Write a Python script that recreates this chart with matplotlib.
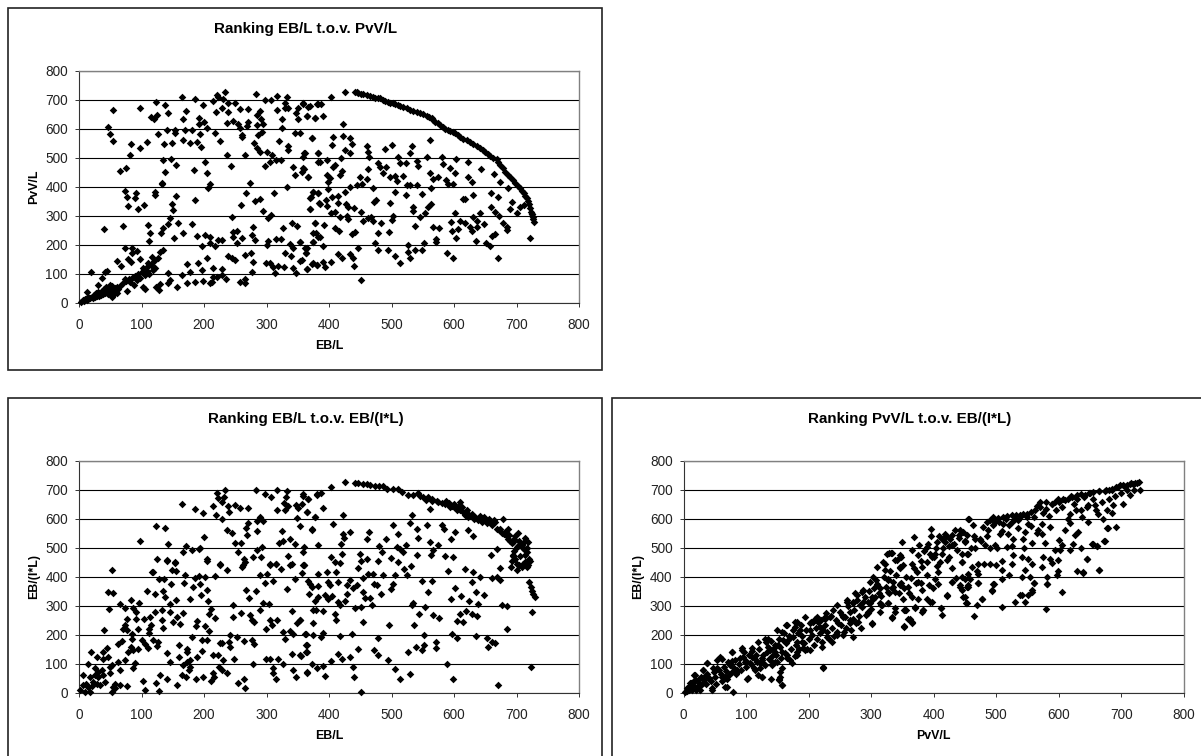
import numpy as np
import matplotlib
matplotlib.use('Agg')
import matplotlib.pyplot as plt
from matplotlib.patches import Rectangle

plt.rcParams['font.family'] = ['Liberation Sans', 'DejaVu Sans']

# chart 1: EB/L against PvV/L
pv_curve = [(426,728),(442,726),(445,725),(447,722),(451,721),(455,720),(460,717),(466,713),(470,710),(474,707),(478,706),(482,705),(486,700),(490,695),(494,692),(498,690),(502,687),(506,684),(510,681),(514,678),(519,674),(524,670),(530,665),(535,661),(540,657),(546,653),(551,649),(556,645),(560,641),(564,638),(567,631),(570,624),(574,618),(578,613),(582,606),(586,599),(590,595),(594,592),(598,588),(602,584),(606,578),(610,572),(615,566),(620,561),(625,554),(631,547),(636,539),(642,532),(646,526),(650,521),(654,513),(658,506),(663,500),(668,494),(671,484),(674,475),(678,463),(682,452),(686,442),(690,432),(694,423),(698,414),(702,404),(706,394),(709,385),(712,377),(714,368),(716,360),(718,349),(720,339),(722,326),(723,314),(725,305),(726,297),(727,288),(728,279)]
pv_upper = [(54,664),(47,606),(49,580),(55,557),(97,672),(123,691),(137,680),(142,654),(125,647),(115,639),(120,632),(164,710),(171,662),(167,632),(185,702),(199,683),(192,636),(200,624),(192,616),(214,694),(221,717),(233,725),(223,708),(231,702),(228,672),(219,657),(239,657),(238,688),(249,687),(257,669),(271,669),(236,620),(246,627),(254,616),(257,602),(271,624),(268,608),(261,578),(283,720),(297,699),(307,699),(317,713),(317,665),(333,709),(330,687),(330,670),(335,672),(324,632),(325,601),(320,557),(335,541),(335,526),(289,660),(284,647),(291,633),(284,614),(295,616),(292,588),(287,578),(358,687),(351,670),(347,653),(350,632),(367,676),(364,645),(378,636),(382,684),(345,584),(354,584),(372,569),(280,549),(285,534),(289,521),(300,521),(309,509),(297,472),(306,484),(315,491),(323,491),(342,469),(345,442),(356,449),(360,461),(361,517),(367,432),(383,515),(383,486),(127,580),(140,594),(154,595),(154,586),(169,594),(180,594),(136,546),(148,549),(167,561),(178,551),(189,555),(195,538),(193,580),(205,601),(218,584),(226,557),(236,509),(266,509),(243,472),(261,572),(134,491),(147,494),(155,476),(138,449),(133,413),(184,457),(202,486),(205,446),(210,409),(207,394),(273,413),(333,399),(66,453),(75,465),(81,509),(83,546),(97,532),(109,553)]
pv_lower = [(73,385),(76,364),(79,334),(91,379),(89,360),(95,323),(104,337),(121,383),(121,371),(133,411),(149,342),(155,368),(150,320),(186,353),(259,338),(267,379),(282,352),(290,357),(295,316),(312,379),(307,302),(303,293),(371,365),(375,383),(382,377),(385,342),(369,323),(378,276),(40,253),(71,263),(111,268),(135,256),(146,291),(142,270),(131,239),(114,239),(112,213),(159,276),(166,239),(152,222),(181,272),(188,230),(202,233),(209,225),(209,205),(196,195),(218,195),(223,216),(228,216),(245,297),(247,245),(252,248),(247,228),(253,207),(260,222),(278,260),(276,233),(282,216),(300,199),(303,214),(315,221),(323,221),(327,259),(340,276),(348,264),(338,201),(342,187),(354,208),(364,187),(363,170),(375,210),(379,239),(382,228),(19,107),(36,86),(42,107),(45,110),(73,190),(85,187),(93,179),(60,145),(67,128),(79,151),(83,141),(84,170),(98,151),(116,159),(111,136),(127,153),(129,176),(134,180),(172,132),(190,138),(204,153),(196,113),(199,75),(142,103),(146,78),(142,67),(157,55),(164,95),(178,107),(215,118),(228,115),(239,161),(245,153),(249,147),(266,164),(275,170),(279,141),(277,107),(299,138),(306,138),(310,122),(314,101),(319,126),(328,124),(330,170),(339,161),(343,121),(347,103),(356,147),(364,115),(374,136),(380,130),(103,55),(106,46),(123,53),(128,44),(130,64),(186,72),(172,69),(212,72),(210,67),(258,72),(265,67),(265,82),(235,82),(228,95),(220,90),(215,90)]
pv_band = [(3,3),(6,8),(8,6),(10,12),(12,10),(14,18),(15,12),(18,15),(20,20),(22,16),(24,26),(25,20),(27,33),(28,24),(30,28),(30,38),(32,22),(33,34),(35,28),(36,42),(38,30),(40,36),(40,48),(42,33),(43,55),(45,40),(46,30),(47,52),(48,44),(50,60),(50,35),(52,48),(52,21),(53,58),(55,40),(55,28),(57,52),(58,45),(60,35),(60,55),(62,48),(13,38),(30,60),(77,41),(75,75),(80,80),(82,72),(85,85),(88,62),(90,92),(92,78),(95,100),(98,85),(100,105),(102,118),(105,95),(108,110),(110,125),(112,100),(115,130),(118,112),(120,145),(122,118),(70,68),(66,58),(73,82)]
pv_right = [(403,710),(358,684),(369,678),(380,684),(387,684),(365,644),(378,636),(390,644),(422,616),(372,569),(407,572),(404,544),(422,576),(434,567),(436,547),(425,526),(434,517),(460,540),(463,521),(464,503),(490,529),(501,544),(533,540),(530,517),(561,561),(360,517),(383,515),(359,501),(385,486),(397,492),(419,498),(410,475),(407,469),(420,454),(418,440),(396,440),(402,429),(399,417),(367,432),(359,463),(449,434),(463,461),(460,425),(444,406),(452,411),(434,398),(426,383),(415,368),(405,366),(399,391),(375,383),(383,377),(370,360),(395,354),(384,343),(396,333),(409,314),(403,308),(369,323),(415,345),(427,339),(431,329),(440,328),(451,314),(417,294),(429,299),(431,289),(471,394),(479,480),(482,469),(491,469),(487,446),(498,432),(506,437),(511,503),(514,480),(523,483),(508,421),(519,437),(524,406),(530,406),(540,406),(506,383),(523,371),(548,375),(563,394),(566,425),(574,432),(561,446),(541,490),(543,472),(556,501),(580,501),(583,477),(594,466),(602,446),(587,423),(591,409),(598,409),(603,495),(622,484),(643,461),(622,432),(629,417),(664,443),(674,417),(687,394),(659,377),(671,363),(631,371),(617,357),(475,354),(472,348),(498,343),(535,331),(534,317),(563,339),(559,331),(554,308),(546,297),(503,300),(500,285),(463,291),(467,297),(455,283),(470,283),(483,274),(537,264),(567,262),(576,256),(496,245),(479,239),(442,243),(436,236),(410,259),(416,247),(392,268),(378,276),(375,239),(386,228),(375,210),(354,210),(390,197),(473,205),(478,182),(495,180),(506,161),(514,138),(447,190),(434,167),(439,155),(440,126),(414,167),(420,155),(403,141),(390,141),(393,124),(380,130),(372,133),(365,115),(354,145),(363,172),(362,187),(451,78),(527,199),(527,176),(530,155),(538,182),(548,182),(552,205),(571,220),(571,208),(588,172),(599,153),(603,222),(596,247),(595,279),(607,253),(610,283),(618,274),(615,357),(602,308),(630,297),(636,283),(626,262),(628,248),(637,260),(648,271),(642,308),(635,213),(651,207),(657,195),(660,231),(666,236),(671,155),(659,331),(666,314),(672,300),(678,274),(684,262),(685,251),(692,348),(690,323),(700,308),(706,329),(712,337),(722,224),(724,306)]

# chart 2: EB/L against EB/(I*L)
il_upper = [(97,525),(123,574),(137,570),(142,514),(124,462),(140,459),(154,451),(164,652),(185,633),(199,622),(214,643),(219,614),(228,600),(220,688),(233,700),(223,671),(232,677),(228,660),(238,646),(240,623),(249,648),(257,637),(271,637),(283,700),(297,685),(307,674),(317,700),(332,697),(331,677),(328,654),(334,643),(330,631),(317,629),(359,685),(367,669),(381,685),(347,648),(356,651),(350,637),(365,625),(348,602),(378,606),(354,574),(372,566),(289,606),(284,594),(295,591),(284,559),(271,585),(267,570),(269,545),(236,562),(245,551),(250,516),(259,516),(200,539),(171,507),(167,484),(180,491),(194,499),(192,495),(255,484),(264,461),(205,461),(279,467),(291,468),(285,491),(293,502),(324,559),(320,516),(327,524),(337,530),(345,514),(360,502),(358,487),(383,510),(335,472),(306,445),(315,445),(340,445),(360,441),(226,444),(263,441)]
il_top = [(426,726),(442,723),(447,723),(455,721),(460,720),(466,718),(474,713),(480,714),(487,715),(493,703),(503,703),(511,703),(516,692),(527,684),(535,684),(543,688),(551,675),(559,675),(564,663),(572,661),(580,655),(587,663),(594,640),(600,652),(610,657),(604,629),(615,623),(620,631),(626,611),(634,606),(642,611),(650,600),(658,594),(666,589),(679,600),(674,566),(680,548),(687,566),(687,531),(695,520),(703,552),(706,514),(714,533),(719,520),(716,485),(700,502),(695,474),(692,456),(691,433),(700,422),(708,433),(716,433),(720,462),(714,474),(720,382),(723,364),(725,351),(727,339),(729,330),(724,278),(723,88),(684,218),(403,709)]
il_dense = [(590,650),(596,645),(606,640),(612,640),(618,615),(622,605),(628,618),(632,600),(638,595),(644,590),(648,605),(652,585),(656,598),(660,580),(664,595),(668,565),(672,560),(676,552),(682,556),(684,540),(688,545),(690,525),(692,515),(696,530),(698,540),(702,505),(704,525),(708,510),(710,500),(712,520),(696,490),(694,470),(700,445),(704,440),(710,445),(714,450),(718,440),(722,455),(712,495),(716,500),(706,470),(698,460),(545,680),(555,665),(565,670),(575,660),(585,650),(592,655),(600,640),(610,630),(620,620)]
il_right = [(359,680),(367,667),(380,684),(387,688),(365,623),(390,638),(378,606),(422,615),(407,583),(372,563),(422,548),(434,554),(424,534),(419,514),(420,479),(464,554),(460,531),(502,580),(510,548),(533,614),(530,586),(541,565),(543,534),(491,531),(480,505),(484,485),(561,634),(556,578),(561,520),(575,508),(580,580),(584,566),(602,554),(595,531),(623,560),(630,542),(508,502),(514,497),(523,511),(519,485),(511,451),(499,464),(479,453),(449,479),(460,462),(451,454),(447,431),(403,468),(409,451),(418,447),(411,416),(360,439),(383,410),(396,416),(414,382),(399,382),(402,370),(463,410),(471,408),(487,407),(506,407),(524,405),(531,436),(520,428),(540,474),(563,474),(567,493),(586,470),(599,468),(659,474),(668,497),(674,430),(617,428),(631,416),(590,420),(642,399),(629,382),(660,397),(668,399),(673,390),(548,385),(564,385),(499,359),(503,374),(476,370),(472,376),(483,341),(454,397),(434,390),(428,372),(444,370),(439,361),(454,347),(458,326),(466,326),(429,341),(426,316),(415,313),(418,301),(559,347),(602,362),(611,333),(635,347),(648,338),(595,322),(624,315),(638,307),(676,303),(684,298),(394,336),(404,332),(399,324),(383,367),(370,376),(372,364),(383,330),(378,316),(375,284),(379,284),(391,280),(410,272),(411,249),(442,293),(451,295),(468,301),(535,309),(532,301),(554,295),(567,267),(576,259),(544,270),(536,232),(496,232),(455,244),(374,240),(610,272),(619,282),(628,272),(636,263),(604,247),(615,244),(354,249),(362,203),(375,200),(387,192),(391,207),(418,195),(436,203),(479,188),(552,200),(596,203),(604,188),(635,195),(652,188),(660,175),(666,172),(655,157),(571,175),(571,155),(552,163),(548,146),(539,157),(527,140),(472,146),(478,129),(447,152),(433,121),(420,117),(414,134),(403,108),(363,163),(363,140),(354,129),(495,114),(372,100),(380,85),(390,92),(365,71),(394,57),(438,88),(440,54),(506,80),(514,46),(530,65),(588,100),(599,45),(671,25),(451,2)]
il_left = [(53,422),(117,415),(119,418),(140,453),(154,447),(148,422),(155,420),(169,405),(128,393),(136,393),(147,374),(168,378),(186,396),(192,402),(201,399),(218,401),(194,374),(183,364),(195,338),(205,353),(109,351),(121,341),(135,351),(138,330),(46,347),(55,345),(66,307),(83,318),(96,309),(73,293),(48,287),(87,293),(146,307),(155,321),(178,322),(207,315),(211,290),(208,272),(217,259),(246,301),(247,261),(259,275),(274,267),(276,249),(280,244),(290,284),(295,310),(304,307),(267,355),(283,351),(272,326),(333,359),(297,378),(310,387),(289,405),(300,408),(323,428),(306,441),(315,445),(236,422),(226,441),(260,433),(266,451),(204,453),(338,442),(359,439),(357,414),(346,393),(367,387),(368,341),(340,282),(353,249),(348,241),(305,249),(316,252),(299,221),(308,232),(327,209),(329,186),(338,213),(342,201),(363,201),(76,255),(74,232),(71,218),(76,215),(40,217),(91,278),(91,255),(104,255),(114,261),(121,278),(132,284),(133,249),(115,232),(112,218),(94,221),(112,206),(135,224),(146,278),(156,261),(151,244),(162,238),(167,275),(188,247),(187,230),(202,229),(208,211),(84,203),(84,186),(83,157),(79,140),(87,146),(95,152),(100,180),(106,169),(111,155),(118,180),(127,175),(125,160),(68,178),(62,167),(44,155),(39,140),(19,140),(28,123),(38,117),(47,121),(14,100),(63,106),(74,111),(90,102),(52,94),(66,77),(87,85),(141,138),(146,106),(160,163),(172,152),(173,140),(160,121),(181,192),(196,180),(204,180),(196,143),(188,123),(178,111),(172,106),(166,94),(178,89),(176,77),(225,171),(229,171),(242,198),(252,192),(240,175),(242,157),(264,177),(276,180),(280,166),(214,129),(223,129),(231,111),(224,89),(228,77),(236,68),(248,117),(278,97),(299,115),(306,117),(319,115),(327,97),(340,132),(355,125),(364,163),(365,140),(311,83),(311,68),(315,48),(343,77),(347,52),(365,69),(130,62),(140,48),(164,62),(171,54),(187,48),(199,54),(214,66),(216,54),(211,40),(102,40),(123,33),(106,10),(128,6),(157,25),(77,22),(255,33),(264,45),(266,17),(7,62),(26,83),(26,60),(18,54),(23,37),(31,54),(39,60),(42,37),(34,25),(15,20),(7,25),(2,8),(10,2),(18,2),(50,89),(49,66),(58,31),(66,25),(55,20),(52,2),(36,77),(31,71),(11,31),(20,22),(28,31),(58,14)]

# chart 3: PvV/L against EB/(I*L)
ps_low = [(77,141),(93,147),(109,153),(61,118),(53,113),(37,101),(47,84),(31,78),(17,61),(79,3),(103,52),(85,72),(66,55),(98,107),(114,118),(125,113),(114,78),(125,55),(141,95),(130,95),(69,21),(45,9),(223,87),(158,25),(153,46),(139,49),(102,49),(194,260),(227,274),(213,262),(207,245),(178,245),(164,233),(149,216),(130,187),(119,176),(93,153),(78,141),(58,122),(38,101),(31,80),(18,61),(5,15),(186,216),(202,216),(218,228),(229,193),(221,159),(202,147),(191,153),(181,141),(170,113),(157,84),(165,130),(154,159),(146,164),(138,147),(127,130),(122,101),(119,61),(106,101),(109,124),(95,124),(82,113),(71,107),(77,72),(69,49),(66,21),(53,84),(42,44),(61,55),(45,15),(31,32),(21,21),(10,32),(2,3),(26,9),(154,55),(141,107),(135,187),(170,193),(181,176),(159,182),(146,107),(125,55),(85,78),(12,20),(16,40),(24,48),(8,10),(14,8),(35,60),(28,25),(20,10)]
ps_band = [(5,5),(8,20),(12,35),(15,25),(18,45),(22,15),(25,35),(28,55),(32,45),(35,30),(38,65),(40,50),(44,40),(48,70),(50,55),(52,30),(56,80),(60,65),(62,40),(65,90),(68,75),(72,60),(74,95),(78,110),(80,85),(84,65),(88,100),(90,120),(92,80),(96,140),(100,110),(100,90),(104,130),(108,100),(110,145),(112,85),(116,130),(118,105),(120,150),(122,85),(126,120),(128,100),(132,175),(134,140),(136,115),(140,180),(142,125),(145,155),(148,130),(150,105),(152,185),(155,120),(158,140),(160,205),(163,170),(166,120),(168,195),(172,150),(175,215),(178,125),(180,165),(183,205),(185,150),(188,235),(190,195),(192,170),(195,215),(198,150),(200,185),(204,245),(206,200),(208,165),(212,225),(214,185),(218,205),(220,250),(222,175),(226,235),(230,210),(232,185),(235,265),(238,225),(240,195),(243,250),(246,210),(250,280),(252,235),(255,200),(258,260),(260,225),(263,300),(266,250),(268,215),(272,285),(275,240),(278,320),(280,265),(284,225),(286,295),(290,330),(292,270),(296,350),(298,310),(300,290),(304,360),(306,330),(310,375),(312,345),(316,335),(320,400),(324,365),(328,345),(330,420),(335,365),(340,405),(344,345),(348,380),(352,360),(356,400),(360,345),(364,395),(368,430),(372,380),(376,510),(380,455),(385,490),(390,450),(395,540),(400,470),(405,520),(410,450),(415,500),(420,540),(425,470),(430,510),(435,395),(440,545),(445,480),(450,525),(455,410),(460,500),(465,540),(470,420),(475,525),(480,445),(485,540),(490,500),(495,580),(500,440),(505,590),(510,560),(515,600),(520,580),(525,505),(530,600),(535,570),(540,610),(545,500),(550,605),(555,575),(560,605),(565,550),(570,640),(575,620),(580,635),(585,610),(590,650),(595,630),(600,660),(605,640),(610,665),(615,600),(620,680),(625,650),(630,670),(635,630),(640,675),(645,640),(650,690),(655,670),(660,630),(665,695),(670,660),(675,700),(680,670),(685,700),(690,680),(695,710),(700,690),(705,712),(710,700),(715,725),(720,700),(725,725)]
ps_mid = [(226,262),(210,256),(202,239),(215,245),(223,216),(223,90),(237,176),(245,199),(181,245),(178,228),(165,233),(157,210),(175,193),(167,182),(151,164),(162,136),(181,130),(173,101),(194,147),(189,176),(135,159),(146,141),(153,44),(158,26),(154,72),(285,348),(277,337),(271,314),(282,302),(295,314),(261,314),(266,279),(245,302),(239,285),(253,268),(271,193),(279,245),(266,239),(247,239),(256,210),(303,400),(298,383),(307,388),(314,360),(327,394),(335,383),(346,371),(327,348),(338,348),(351,325),(301,331),(295,277),(301,236),(316,302),(327,308),(314,279),(338,279),(334,259),(353,228),(353,285),(350,521),(326,480),(332,484),(309,434),(322,446),(322,423),(341,457),(348,469),(346,434)]
ps_upper = [(455,601),(396,564),(369,536),(328,484),(333,483),(366,494),(375,477),(346,475),(338,457),(319,452),(351,440),(365,446),(381,434),(346,429),(405,437),(429,429),(445,452),(455,480),(391,515),(389,503),(394,480),(402,480),(418,549),(426,532),(434,561),(442,561),(450,521),(437,492),(421,457),(413,480),(373,417),(389,406),(407,417),(402,394),(375,383),(407,377),(399,360),(381,354),(429,383),(442,365),(450,394),(455,371),(447,331),(452,308),(421,334),(309,371),(327,389),(333,360),(346,377),(359,365),(365,331),(375,325),(389,325),(394,314),(287,354),(274,343),(261,320),(317,302),(303,325),(287,314),(271,308),(295,274),(314,308),(327,310),(338,291),(333,262),(355,287),(370,293),(383,285),(411,291),(413,268),(362,256),(365,239),(302,239),(255,262),(271,256),(234,262),(226,256),(408,540),(414,530),(398,470),(404,500),(430,545),(380,380),(392,372),(418,520),(425,505),(432,515),(440,535)]
ps_top = [(728,728),(722,725),(719,722),(714,720),(709,716),(703,718),(698,716),(692,710),(685,705),(680,700),(674,697),(665,698),(655,693),(648,688),(642,682),(635,685),(629,682),(622,675),(615,670),(607,670),(599,668),(594,660),(589,653),(580,658),(570,659),(566,645),(562,630),(555,625),(549,618),(543,618),(538,615),(531,612),(525,613),(518,610),(511,607),(503,604),(495,607),(490,598),(485,590),(456,601),(498,590),(511,584),(525,590),(535,596),(551,584),(573,584),(586,572),(546,555),(567,561),(573,549),(506,549),(519,549),(527,532),(543,532),(558,517),(578,517),(601,526),(610,561),(618,586),(631,555),(626,544),(730,699),(714,682),(703,653),(687,647),(677,630),(663,618),(658,647),(647,647),(637,607),(618,618),(628,632),(647,590),(671,601),(686,621),(678,570),(691,572),(673,524),(661,506),(654,515),(646,461),(635,498),(623,515),(618,492),(602,492),(594,492),(605,509),(665,425),(639,417),(630,421),(599,420),(597,406),(582,400),(582,375),(606,348),(546,425),(554,400),(560,379),(542,400),(557,443),(573,434),(551,463),(541,469),(527,475),(509,455),(525,443),(510,425),(520,406),(510,391),(495,377),(493,352),(471,379),(455,366),(557,354),(551,337),(538,337),(477,325),(575,469),(586,463),(599,457),(589,449),(498,509),(482,509),(466,501),(450,523),(454,480),(445,452),(490,446),(471,446),(461,434),(471,411),(458,394),(445,400),(463,578),(479,572),(487,561),(447,555),(466,532),(474,532),(453,544),(501,498),(517,503)]
ps_extra = [(579,289),(465,264),(509,297),(530,314),(541,337),(546,314),(557,348),(560,380),(582,377),(471,380),(493,354),(496,377),(477,323),(470,302),(450,331),(453,308),(454,365),(442,371),(445,354),(429,383),(421,337),(412,291),(397,314),(383,285),(354,285),(370,297),(365,245),(353,231),(359,256),(381,277),(665,423),(639,415),(646,460),(674,524),(679,569),(655,513),(662,506)]

charts = [
    ('Ranking EB/L t.o.v. PvV/L', 'EB/L', 'PvV/L', pv_curve + pv_upper + pv_lower + pv_band + pv_right, (79, 70.7, 579, 302.7), (7.5, 7.5, 601.5, 369.5)),
    ('Ranking EB/L t.o.v. EB/(I*L)', 'EB/L', 'EB/(I*L)', il_upper + il_top + il_dense + il_right + il_left, (79, 461, 579, 692.5), (7.5, 397.5, 601.5, 770)),
    ('Ranking PvV/L t.o.v. EB/(I*L)', 'PvV/L', 'EB/(I*L)', ps_low + ps_band + ps_mid + ps_upper + ps_top + ps_extra, (683.7, 461, 1183.7, 692.7), (611.5, 397.5, 1220, 770)),
]

W, H = 1201, 756
fig = plt.figure(figsize=(W / 100, H / 100), dpi=100)

for title, xlabel, ylabel, points, box, frame in charts:
    # chart frame, the lower two run off the page
    fig.add_artist(Rectangle((frame[0] / W, 1 - frame[3] / H), (frame[2] - frame[0]) / W, (frame[3] - frame[1]) / H,
                             transform=fig.transFigure, fill=False, edgecolor='#222222', linewidth=1.2))
    ax = fig.add_axes([box[0] / W, 1 - box[3] / H, (box[2] - box[0]) / W, (box[3] - box[1]) / H])
    pts = np.array(points)
    ax.scatter(pts[:, 0], pts[:, 1], marker='D', s=15, color='black', linewidths=0, clip_on=False, zorder=3)
    ax.set_xlim(0, 800)
    ax.set_ylim(0, 800)
    ax.set_xticks(range(0, 801, 100))
    ax.set_yticks(range(0, 801, 100))
    ax.grid(True, axis='y', color='black', linewidth=0.8)
    ax.set_axisbelow(True)
    ax.tick_params(labelsize=9.8, length=3, width=0.7, color='#333333', labelcolor='#222222')
    ax.tick_params(axis='x', pad=8)
    ax.tick_params(axis='y', pad=5)
    for side in ['top', 'right']:
        ax.spines[side].set_color('#808080')
        ax.spines[side].set_linewidth(1)
    for side in ['left', 'bottom']:
        ax.spines[side].set_color('#333333')
        ax.spines[side].set_linewidth(0.8)
    ax.set_xlabel(xlabel, fontsize=8.9, fontweight='bold', labelpad=6)
    ax.set_ylabel(ylabel, fontsize=8.9, fontweight='bold', labelpad=4)
    cx = (frame[0] + min(frame[2], frame[0] + 594)) / 2
    fig.text((cx + 1) / W, 1 - (frame[1] + 21.5) / H, title, fontsize=10.9, fontweight='bold', ha='center', va='center')

fig.savefig('out.png', dpi=100, facecolor='white')
